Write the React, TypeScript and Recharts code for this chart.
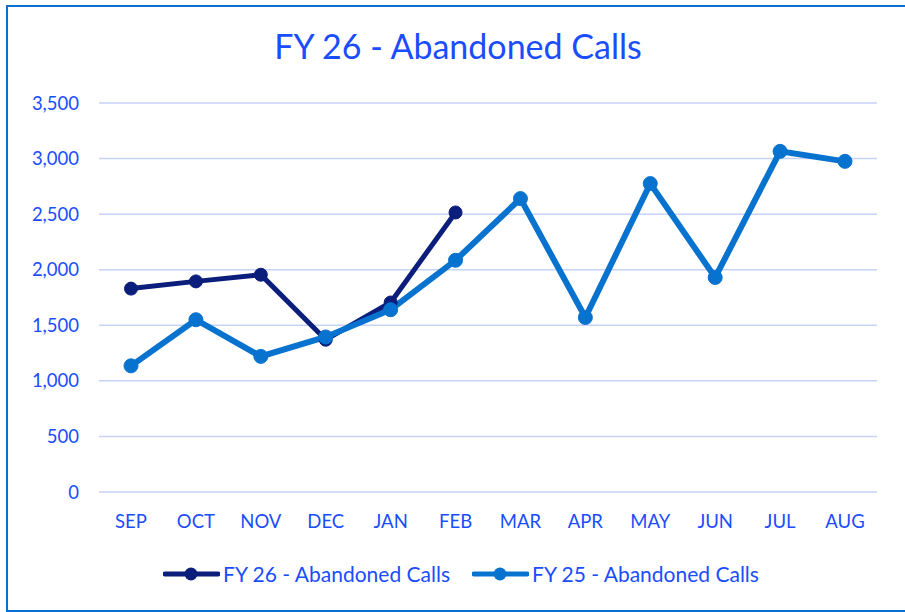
import React from "react";
import {
  LineChart,
  Line,
  XAxis,
  YAxis,
  CartesianGrid,
  Legend,
} from "recharts";

// Meses del año fiscal
const months = ["SEP", "OCT", "NOV", "DEC", "JAN", "FEB", "MAR", "APR", "MAY", "JUN", "JUL", "AUG"];

// Valores
const fy26Values = [1830, 1895, 1955, 1370, 1705, 2515];
const fy25Values = [1135, 1550, 1220, 1395, 1640, 2085, 2640, 1570, 2775, 1930, 3065, 2975];

const yTicks = [0, 500, 1000, 1500, 2000, 2500, 3000, 3500];

const FY26_NAME = "FY 26 - Abandoned Calls";
const FY25_NAME = "FY 25 - Abandoned Calls";
const legendOrder = [FY26_NAME, FY25_NAME];

const chartData = months.map((m, i) => ({
  month: m,
  fy26: i < fy26Values.length ? fy26Values[i] : null,
  fy25: fy25Values[i],
}));

const TEXT_BLUE = "#1a4dff";
const DARK = "#0b1e7c";
const LIGHT = "#0872cf";
const FONT = "Lato, 'Noto Sans', sans-serif";

const renderLegend = (props: any) => {
  const payload = [...props.payload].sort(
    (a: any, b: any) => legendOrder.indexOf(a.value) - legendOrder.indexOf(b.value)
  );
  return (
    <div style={{ display: "flex", justifyContent: "center", gap: 22 }}>
      {payload.map((entry: any) => (
        <div key={entry.value} style={{ display: "flex", alignItems: "center" }}>
          <svg width={57} height={16} style={{ marginRight: 3 }}>
            <line x1={2} y1={8} x2={55} y2={8} stroke={entry.color} strokeWidth={5} strokeLinecap="round" />
            <circle cx={28} cy={8} r={6.5} fill={entry.color} />
          </svg>
          <span style={{ color: TEXT_BLUE, fontSize: 21, fontFamily: FONT }}>{entry.value}</span>
        </div>
      ))}
    </div>
  );
};

export default function App() {
  return (
    <div
      style={{
        position: "absolute",
        left: 0,
        top: 0,
        width: 905,
        height: 612,
        overflow: "hidden",
        background: "#fff",
      }}
    >
      <div
        style={{
          position: "absolute",
          left: 6,
          top: 5,
          width: 910,
          height: 607,
          boxSizing: "border-box",
          border: "2px solid #0a6fd3",
        }}
      />
      <div
        style={{
          position: "absolute",
          left: 0,
          top: 25,
          width: 916,
          textAlign: "center",
          color: TEXT_BLUE,
          fontFamily: FONT,
          fontSize: 34,
        }}
      >
        FY 26 - Abandoned Calls
      </div>
      <div style={{ position: "absolute", left: 0, top: 0 }}>
        <LineChart
          width={905}
          height={612}
          data={chartData}
          margin={{ top: 103, right: 28, left: 0, bottom: 80 }}
        >
          <CartesianGrid vertical={false} stroke="#c6d3f6" strokeWidth={1.5} />
          <XAxis
            dataKey="month"
            axisLine={false}
            tickLine={false}
            height={40}
            tickMargin={17}
            padding={{ left: 32, right: 32 }}
            tick={{ fill: TEXT_BLUE, fontSize: 18.5, fontFamily: FONT }}
          />
          <YAxis
            domain={[0, 3500]}
            ticks={yTicks}
            width={99}
            axisLine={false}
            tickLine={false}
            tickMargin={14}
            tickFormatter={(v: number) => v.toLocaleString("en-US")}
            tick={{ fill: TEXT_BLUE, fontSize: 18.5, fontFamily: FONT }}
          />
          <Legend
            verticalAlign="middle"
            align="center"
            layout="horizontal"
            content={renderLegend}
            wrapperStyle={{ top: 561, left: 0, width: 922 }}
          />
          <Line
            type="linear"
            dataKey="fy26"
            name={FY26_NAME}
            stroke={DARK}
            strokeWidth={5}
            dot={{ r: 6.5, fill: DARK, stroke: DARK, strokeWidth: 1 }}
            activeDot={false}
            isAnimationActive={false}
          />
          <Line
            type="linear"
            dataKey="fy25"
            name={FY25_NAME}
            stroke={LIGHT}
            strokeWidth={6}
            dot={{ r: 7, fill: LIGHT, stroke: LIGHT, strokeWidth: 1 }}
            activeDot={false}
            isAnimationActive={false}
          />
        </LineChart>
      </div>
    </div>
  );
}
